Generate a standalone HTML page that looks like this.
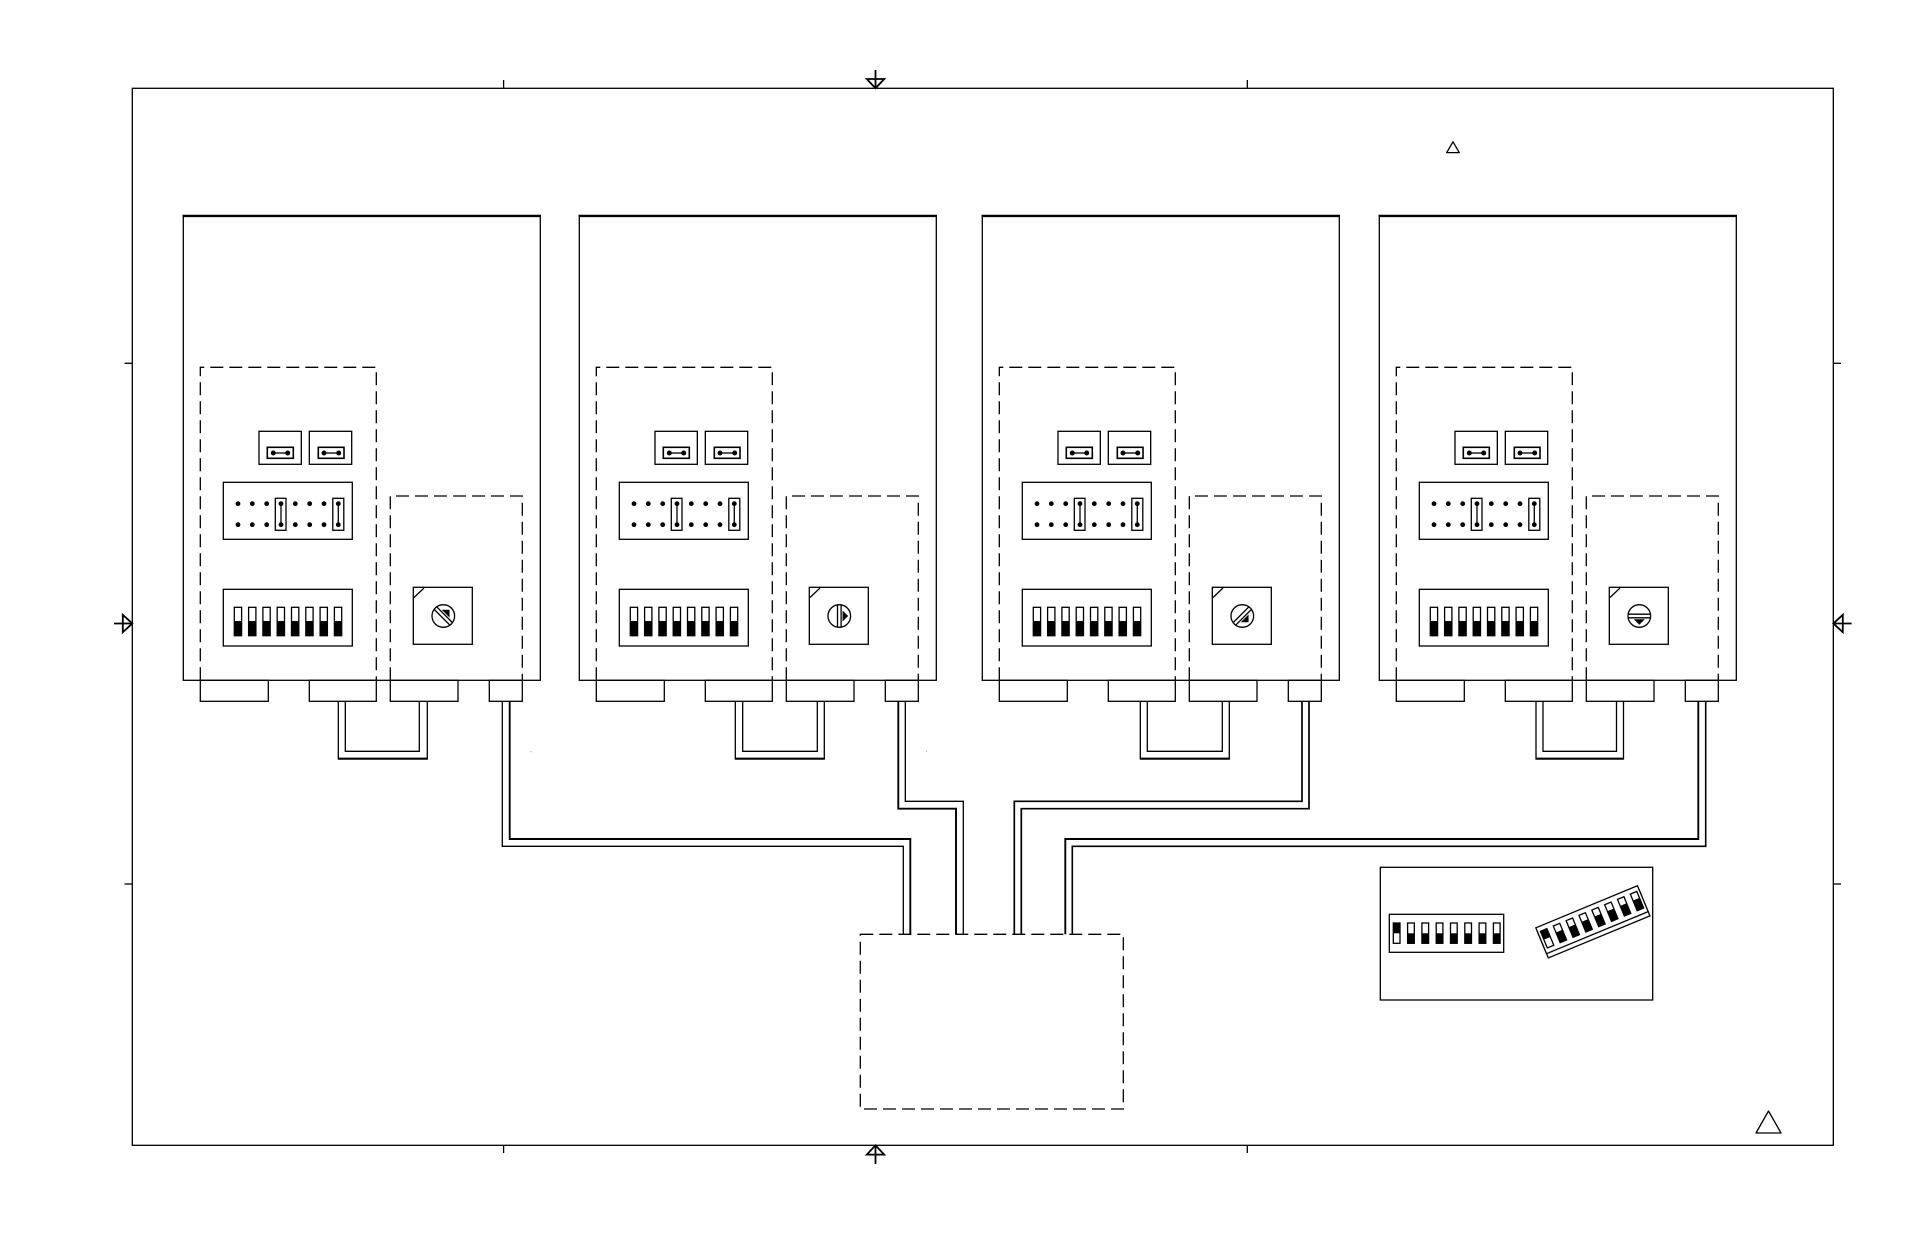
<!DOCTYPE html>
<html>
<head>
<meta charset="utf-8">
<style>
html,body{margin:0;padding:0;background:#fff;}
svg{display:block;}
</style>
</head>
<body>
<svg width="1908" height="1235" viewBox="0 0 1908 1235" xmlns="http://www.w3.org/2000/svg">
<rect x="0" y="0" width="1908" height="1235" fill="#fff"/>
<defs>
<g id="unit" fill="none" stroke="#000" stroke-width="1.3">
  <rect x="183.3" y="215.7" width="357" height="464.6"/>
  <line x1="182.6" y1="215.9" x2="541" y2="215.9" stroke-width="2.4"/>
  <path d="M200.3,680.3 V367.3 H376.3 V680.3" stroke-dasharray="13 6"/>
  <path d="M390.3,680.3 V496 H522.3 V680.3" stroke-dasharray="13 6"/>
  <rect x="200.3" y="680.3" width="68" height="21"/>
  <rect x="309.3" y="680.3" width="67" height="21"/>
  <rect x="390.3" y="680.3" width="67.7" height="21"/>
  <rect x="489.3" y="680.3" width="33" height="21"/>
  <rect x="259" y="431.3" width="42.3" height="33"/>
  <rect x="309.3" y="431.3" width="42.4" height="33"/>
  <rect x="267.3" y="447.3" width="26" height="11" stroke-width="1.6"/>
  <rect x="318.3" y="447.3" width="25.7" height="11" stroke-width="1.6"/>
  <line x1="273.3" y1="453" x2="287.7" y2="453"/>
  <line x1="324" y1="453" x2="338.7" y2="453"/>
  <g fill="#000" stroke="none">
    <circle cx="273.3" cy="453" r="2.5"/><circle cx="287.7" cy="453" r="2.5"/>
    <circle cx="324" cy="453" r="2.5"/><circle cx="338.7" cy="453" r="2.5"/>
  </g>
  <rect x="223.3" y="482.3" width="129" height="57"/>
  <rect x="275.3" y="498.3" width="10.7" height="32"/>
  <rect x="332.8" y="498.3" width="11" height="32"/>
  <line x1="281" y1="503.7" x2="281" y2="524.7"/>
  <line x1="338.3" y1="503.7" x2="338.3" y2="524.7"/>
  <g fill="#000" stroke="none">
    <circle cx="238" cy="503.7" r="2.4"/><circle cx="252.3" cy="503.7" r="2.4"/><circle cx="266.7" cy="503.7" r="2.4"/><circle cx="281" cy="503.7" r="2.4"/>
    <circle cx="295.3" cy="503.7" r="2.4"/><circle cx="309.7" cy="503.7" r="2.4"/><circle cx="324" cy="503.7" r="2.4"/><circle cx="338.3" cy="503.7" r="2.4"/>
    <circle cx="238" cy="524.7" r="2.4"/><circle cx="252.3" cy="524.7" r="2.4"/><circle cx="266.7" cy="524.7" r="2.4"/><circle cx="281" cy="524.7" r="2.4"/>
    <circle cx="295.3" cy="524.7" r="2.4"/><circle cx="309.7" cy="524.7" r="2.4"/><circle cx="324" cy="524.7" r="2.4"/><circle cx="338.3" cy="524.7" r="2.4"/>
  </g>
  <rect x="223.3" y="589.3" width="129" height="56.7"/>
  <g>
    <rect x="234.3" y="607.3" width="7.3" height="28.4"/>
    <rect x="248.6" y="607.3" width="7.3" height="28.4"/>
    <rect x="262.9" y="607.3" width="7.3" height="28.4"/>
    <rect x="277.2" y="607.3" width="7.3" height="28.4"/>
    <rect x="291.5" y="607.3" width="7.3" height="28.4"/>
    <rect x="305.8" y="607.3" width="7.3" height="28.4"/>
    <rect x="320.1" y="607.3" width="7.3" height="28.4"/>
    <rect x="334.4" y="607.3" width="7.3" height="28.4"/>
  </g>
  <g fill="#000" stroke="none">
    <rect x="234.3" y="621" width="7.3" height="14.7"/>
    <rect x="248.6" y="621" width="7.3" height="14.7"/>
    <rect x="262.9" y="621" width="7.3" height="14.7"/>
    <rect x="277.2" y="621" width="7.3" height="14.7"/>
    <rect x="291.5" y="621" width="7.3" height="14.7"/>
    <rect x="305.8" y="621" width="7.3" height="14.7"/>
    <rect x="320.1" y="621" width="7.3" height="14.7"/>
    <rect x="334.4" y="621" width="7.3" height="14.7"/>
  </g>
  <rect x="413.3" y="587.3" width="59" height="57"/>
  <line x1="414" y1="597.5" x2="424" y2="588"/>
</g>
<g id="rot" fill="none" stroke="#000" stroke-width="1.3">
  <circle cx="0" cy="0" r="11.3"/>
  <line x1="-1.8" y1="-11" x2="-1.8" y2="11"/>
  <line x1="1.8" y1="-11" x2="1.8" y2="11"/>
  <polygon points="3.3,-5.5 3.3,5.5 8.8,0" fill="#000" stroke="none"/>
</g>
</defs>

<g fill="none" stroke="#000" stroke-width="1.3">
  <rect x="132.3" y="88.3" width="1701" height="1057"/>
  <line x1="503.6" y1="80" x2="503.6" y2="88.3"/>
  <line x1="1247.3" y1="80" x2="1247.3" y2="88.3"/>
  <line x1="503.6" y1="1145.3" x2="503.6" y2="1153"/>
  <line x1="1247.3" y1="1145.3" x2="1247.3" y2="1153"/>
  <line x1="124.5" y1="363.3" x2="132.3" y2="363.3"/>
  <line x1="124.5" y1="884" x2="132.3" y2="884"/>
  <line x1="1833.3" y1="363.3" x2="1841" y2="363.3"/>
  <line x1="1833.3" y1="884" x2="1841" y2="884"/>
</g>
<g fill="none" stroke="#000" stroke-width="1.8">
  <line x1="875.5" y1="70" x2="875.5" y2="88.3"/>
  <polygon points="866.8,79 884.2,79 875.5,88.3"/>
  <line x1="875.5" y1="1145.3" x2="875.5" y2="1164"/>
  <polygon points="866.8,1154.6 884.2,1154.6 875.5,1145.3"/>
  <line x1="114" y1="623.5" x2="132.3" y2="623.5"/>
  <polygon points="122.8,614.8 122.8,632.2 132.3,623.5"/>
  <line x1="1833.3" y1="623.5" x2="1851.6" y2="623.5"/>
  <polygon points="1842.8,614.8 1842.8,632.2 1833.3,623.5"/>
</g>
<g fill="none" stroke="#000" stroke-width="1.3" stroke-linejoin="round">
  <path d="M1453,141.8 L1459.3,152.6 L1446.7,152.6 Z"/>
  <path d="M1768.5,1111 L1781,1133 L1756,1133 Z"/>
</g>

<use href="#unit"/>
<use href="#unit" transform="translate(396,0)"/>
<use href="#unit" transform="translate(799,0)"/>
<use href="#unit" transform="translate(1196,0)"/>

<use href="#rot" transform="translate(443.3,616) rotate(-45)"/>
<use href="#rot" transform="translate(839.3,616)"/>
<use href="#rot" transform="translate(1242.3,616) rotate(45)"/>
<use href="#rot" transform="translate(1639.3,616) rotate(90)"/>

<g fill="none" stroke="#000" stroke-width="1.3">
  <path d="M338.3,701.3 V758.7 H427.3 V701.3"/>
  <path d="M345.3,701.3 V751.3 H419.3 V701.3"/>
  <line x1="338" y1="758.7" x2="427.6" y2="758.7" stroke-width="2.2"/>
  <path d="M735.3,701.3 V758.7 H824.3 V701.3"/>
  <path d="M742.7,701.3 V751.3 H817.3 V701.3"/>
  <line x1="735" y1="758.7" x2="824.6" y2="758.7" stroke-width="2.2"/>
  <path d="M1140.3,701.3 V758.7 H1229.3 V701.3"/>
  <path d="M1147.3,701.3 V751.3 H1222.3 V701.3"/>
  <line x1="1140" y1="758.7" x2="1229.6" y2="758.7" stroke-width="2.2"/>
  <path d="M1536,701.3 V758.7 H1623.5 V701.3"/>
  <path d="M1543,701.3 V751.3 H1616.5 V701.3"/>
  <line x1="1535.7" y1="758.7" x2="1623.8" y2="758.7" stroke-width="2.2"/>
</g>

<g fill="none" stroke="#000" stroke-width="1.3">
  <path d="M502.3,701.3 V846.3 H903.3 V934.3"/>
  <path d="M509.7,701.3 V839 H910.3 V934.3" stroke-width="1.9"/>
  <path d="M898.3,701.3 V808.7 H956 V934.3" stroke-width="1.9"/>
  <path d="M905.3,701.3 V801.3 H963.3 V934.3"/>
  <path d="M1302,701.3 V801.3 H1014.3 V934.3" stroke-width="1.7"/>
  <path d="M1309,701.3 V808.7 H1021.3 V934.3" stroke-width="1.7"/>
  <path d="M1698.3,701.3 V839 H1065.3 V934.3" stroke-width="1.9"/>
  <path d="M1705.7,701.3 V846.3 H1072.3 V934.3" stroke-width="1.6"/>
</g>

<rect x="860.3" y="934.3" width="263" height="174.7" fill="none" stroke="#000" stroke-width="1.3" stroke-dasharray="13 6"/>

<rect x="530.5" y="751.2" width="1" height="1" fill="#999"/>
<rect x="926.2" y="750.8" width="1" height="1" fill="#999"/>

<g fill="none" stroke="#000" stroke-width="1.3">
  <rect x="1380.3" y="867.3" width="272.4" height="132.7"/>
  <rect x="1389.3" y="914.3" width="114.4" height="38"/>
  <rect x="1393.3" y="923" width="6.7" height="20.3"/>
  <rect x="1407.6" y="923" width="6.7" height="20.3"/>
  <rect x="1421.9" y="923" width="6.7" height="20.3"/>
  <rect x="1436.2" y="923" width="6.7" height="20.3"/>
  <rect x="1450.5" y="923" width="6.7" height="20.3"/>
  <rect x="1464.8" y="923" width="6.7" height="20.3"/>
  <rect x="1479.1" y="923" width="6.7" height="20.3"/>
  <rect x="1493.4" y="923" width="6.7" height="20.3"/>
</g>
<g fill="#000">
  <rect x="1393.3" y="923" width="6.7" height="10.3"/>
  <rect x="1407.6" y="933.3" width="6.7" height="10"/>
  <rect x="1421.9" y="933.3" width="6.7" height="10"/>
  <rect x="1436.2" y="933.3" width="6.7" height="10"/>
  <rect x="1450.5" y="933.3" width="6.7" height="10"/>
  <rect x="1464.8" y="933.3" width="6.7" height="10"/>
  <rect x="1479.1" y="933.3" width="6.7" height="10"/>
  <rect x="1493.4" y="933.3" width="6.7" height="10"/>
</g>
<g transform="translate(1592,919.7) rotate(-22.5)" stroke="#000" stroke-width="1.3">
  <rect x="-55" y="-9.4" width="110" height="28" fill="#fff"/>
  <rect x="-55" y="-14" width="110" height="28" fill="#fff"/>
  <g fill="#fff">
    <rect x="-52.1" y="-9" width="7" height="18"/>
    <rect x="-38.2" y="-9" width="7" height="18"/>
    <rect x="-24.3" y="-9" width="7" height="18"/>
    <rect x="-10.4" y="-9" width="7" height="18"/>
    <rect x="3.5" y="-9" width="7" height="18"/>
    <rect x="17.4" y="-9" width="7" height="18"/>
    <rect x="31.3" y="-9" width="7" height="18"/>
    <rect x="45.2" y="-9" width="7" height="18"/>
  </g>
  <g fill="#000" stroke="none">
    <rect x="-52.1" y="-9" width="7" height="9"/>
    <rect x="-38.2" y="-2" width="7" height="11"/>
    <rect x="-24.3" y="-2" width="7" height="11"/>
    <rect x="-10.4" y="-2" width="7" height="11"/>
    <rect x="3.5" y="-2" width="7" height="11"/>
    <rect x="17.4" y="-2" width="7" height="11"/>
    <rect x="31.3" y="-2" width="7" height="11"/>
    <rect x="45.2" y="-2" width="7" height="11"/>
  </g>
</g>
</svg>
</body>
</html>
